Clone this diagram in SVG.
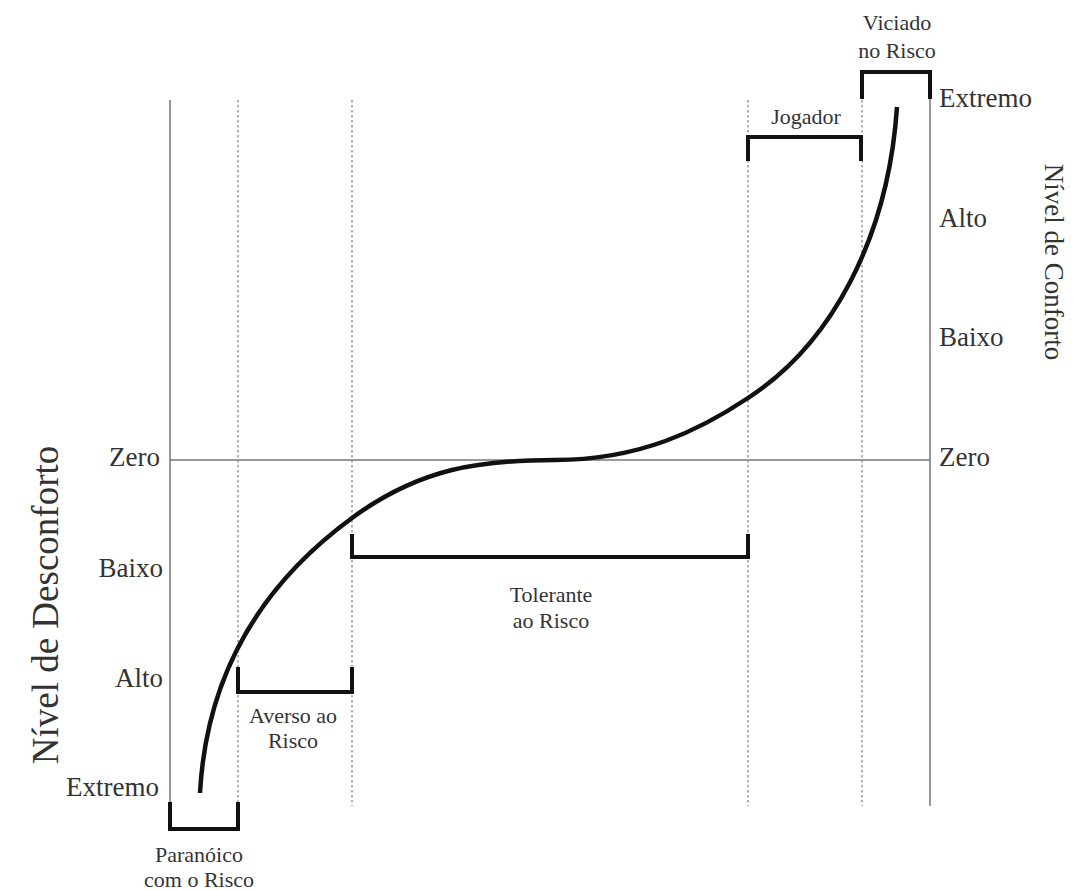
<svg xmlns="http://www.w3.org/2000/svg" width="1074" height="890" viewBox="0 0 1074 890">
<style>
text{font-family:"Liberation Serif","Times New Roman",serif;fill:#333}
.ax{stroke:#777;stroke-width:1.5;fill:none}
.dot{stroke:#888;stroke-width:1.3;stroke-dasharray:2.5,2.5;fill:none}
.br{stroke:#111;stroke-width:4;fill:none;stroke-linejoin:miter}
.lbl{font-size:27px}
.sm{font-size:22px;text-anchor:middle}
.title{text-anchor:middle}
</style>
<rect width="1074" height="890" fill="#fff"/>
<g id="axes">
<line class="ax" x1="170" y1="100" x2="170" y2="803"/>
<line class="ax" x1="930" y1="98" x2="930" y2="806"/>
<line class="ax" x1="170" y1="460" x2="930" y2="460"/>
</g>
<g id="dotted">
<line class="dot" x1="238" y1="100" x2="238" y2="806"/>
<line class="dot" x1="352" y1="100" x2="352" y2="806"/>
<line class="dot" x1="748" y1="100" x2="748" y2="806"/>
<line class="dot" x1="862" y1="100" x2="862" y2="806"/>
</g>
<g id="connectors">
<path d="M200,793 C205,700 240,600 352,518 C420,468 480,460 555,460 C640,460 700,430 748,398 C830,345 888,240 897,107" fill="none" stroke="#111" stroke-width="4.5"/>
</g>
<g id="paranoico">
<path class="br" d="M170,802 V829 H238 V802"/>
<text class="sm" x="199" y="862" font-size="24">Paranóico</text>
<text class="sm" x="199" y="887" font-size="24">com o Risco</text>
</g>
<g id="averso">
<path class="br" d="M238,667 V692 H352 V667"/>
<text class="sm" x="293" y="723">Averso ao</text>
<text class="sm" x="293" y="748">Risco</text>
</g>
<g id="tolerante">
<path class="br" d="M352,534 V557 H748 V534"/>
<text class="sm" x="551" y="602">Tolerante</text>
<text class="sm" x="551" y="628">ao Risco</text>
</g>
<g id="jogador">
<path class="br" d="M748,161 V137 H861 V161"/>
<text class="sm" x="806" y="124">Jogador</text>
</g>
<g id="viciado">
<path class="br" d="M862,99 V72 H930 V99"/>
<text class="sm" x="897" y="30">Viciado</text>
<text class="sm" x="897" y="58">no Risco</text>
</g>
<g id="right-labels">
<text class="lbl" x="939" y="107">Extremo</text>
<text class="lbl" x="939" y="227">Alto</text>
<text class="lbl" x="939" y="346">Baixo</text>
<text class="lbl" x="939" y="466">Zero</text>
<text class="title" font-size="27" transform="translate(1045,262) rotate(90)">Nível de Conforto</text>
</g>
<g id="left-labels">
<text class="lbl" x="160" y="466" text-anchor="end">Zero</text>
<text class="lbl" x="163" y="577" text-anchor="end">Baixo</text>
<text class="lbl" x="163" y="687" text-anchor="end">Alto</text>
<text class="lbl" x="159" y="796" text-anchor="end">Extremo</text>
<text class="title" font-size="37" transform="translate(58,605) rotate(-90)">Nível de Desconforto</text>
</g>
</svg>
